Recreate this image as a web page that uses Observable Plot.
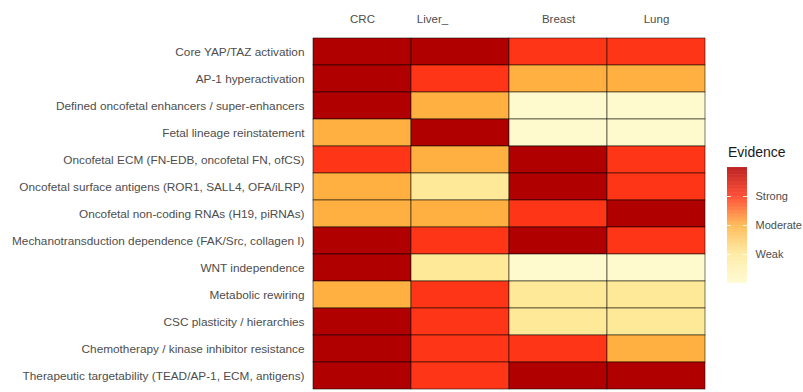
<!DOCTYPE html>
<html>
<head>
<meta charset="utf-8">
<script src="https://cdn.jsdelivr.net/npm/d3@7"></script>
<script src="https://cdn.jsdelivr.net/npm/@observablehq/plot@0.6"></script>
<style>
  html, body { margin: 0; padding: 0; background: #fff; overflow: hidden; }
  #wrap { position: relative; width: 803px; height: 392px; font-family: "Liberation Sans", Arial, sans-serif; }
  #main { position: absolute; left: 0; top: 0; }
  #legend { position: absolute; left: 720px; top: 140px; }
  #legtitle { position: absolute; left: 728px; top: 144px; font-size: 14px; color: #1a1a1a; }
</style>
</head>
<body>
<div id="wrap">
  <div id="main"></div>
  <div id="legtitle">Evidence</div>
  <div id="legend"></div>
</div>
<script>
const columns = ["CRC", "Liver_", "Breast", "Lung"];
const features = [
  "Core YAP/TAZ activation",
  "AP-1 hyperactivation",
  "Defined oncofetal enhancers / super-enhancers",
  "Fetal lineage reinstatement",
  "Oncofetal ECM (FN-EDB, oncofetal FN, ofCS)",
  "Oncofetal surface antigens (ROR1, SALL4, OFA/iLRP)",
  "Oncofetal non-coding RNAs (H19, piRNAs)",
  "Mechanotransduction dependence (FAK/Src, collagen I)",
  "WNT independence",
  "Metabolic rewiring",
  "CSC plasticity / hierarchies",
  "Chemotherapy / kinase inhibitor resistance",
  "Therapeutic targetability (TEAD/AP-1, ECM, antigens)"
];
const crc    = [4, 4, 4, 2, 3, 2, 2, 4, 4, 2, 4, 4, 4];
const liver  = [4, 3, 2, 4, 2, 1, 2, 3, 1, 3, 3, 3, 3];
const breast = [3, 2, 0, 0, 4, 4, 3, 4, 0, 1, 1, 3, 4];
const lung   = [3, 2, 0, 0, 3, 3, 4, 3, 0, 1, 1, 2, 4];
const evidenceTicks = [1, 2, 3];
const evidenceLabels = ["Weak", "Moderate", "Strong"];
const colorStops = [0, 1, 2, 3, 4];
const colorRange = ["#fffacd", "#fee999", "#ffb040", "#ff3518", "#b00000"];

const series = [crc, liver, breast, lung];
const data = [];
columns.forEach((c, j) => features.forEach((f, i) => data.push({col: c, feature: f, value: series[j][i]})));

const colorScale = {type: "linear", domain: colorStops, range: colorRange, interpolate: "rgb"};

const main = Plot.plot({
  width: 803,
  height: 400,
  marginLeft: 311,
  marginRight: 97,
  marginTop: 32,
  marginBottom: 5,
  style: {fontFamily: "Liberation Sans, Arial, sans-serif", fontSize: "11.8px", color: "#4d4d4d", background: "white"},
  x: {type: "band", domain: columns, padding: 0},
  y: {type: "band", domain: features, padding: 0},
  color: colorScale,
  marks: [
    Plot.cell(data, {x: "col", y: "feature", fill: "value", stroke: "#000", strokeWidth: 0.7, strokeOpacity: 0.75, inset: 0}),
    Plot.axisY({anchor: "left", tickSize: 0, tickPadding: 7, label: null}),
    Plot.axisX(columns.filter(c => c !== "Liver_"), {anchor: "top", tickSize: 0, tickPadding: 10, label: null, fontSize: 11.5}),
    Plot.axisX(columns.filter(c => c === "Liver_"), {anchor: "top", tickSize: 0, tickPadding: 10, label: null, fontSize: 11.5, dx: -28})
  ]
});
document.getElementById("main").appendChild(main);

const step = 0.02;
const ramp = d3.range(0, 4, step);
const legend = Plot.plot({
  width: 83,
  height: 150,
  marginLeft: 7,
  marginRight: 56,
  marginTop: 27,
  marginBottom: 7,
  style: {fontFamily: "Liberation Sans, Arial, sans-serif", fontSize: "11px", color: "#4d4d4d", background: "transparent"},
  y: {domain: [0, 4]},
  color: colorScale,
  marks: [
    Plot.rect(ramp, {y1: d => d, y2: d => Math.min(4, d + step + 0.005), fill: d => d + step / 2}),
    Plot.tickY(evidenceTicks, {y: d => d, stroke: "white", strokeWidth: 1, strokeOpacity: 0.8, insetRight: 16}),
    Plot.tickY(evidenceTicks, {y: d => d, stroke: "white", strokeWidth: 1, strokeOpacity: 0.8, insetLeft: 16}),
    Plot.axisY(evidenceTicks, {anchor: "right", tickSize: 0, tickPadding: 8, label: null, tickFormat: d => evidenceLabels[evidenceTicks.indexOf(d)]})
  ]
});
document.getElementById("legend").appendChild(legend);
</script>
</body>
</html>
